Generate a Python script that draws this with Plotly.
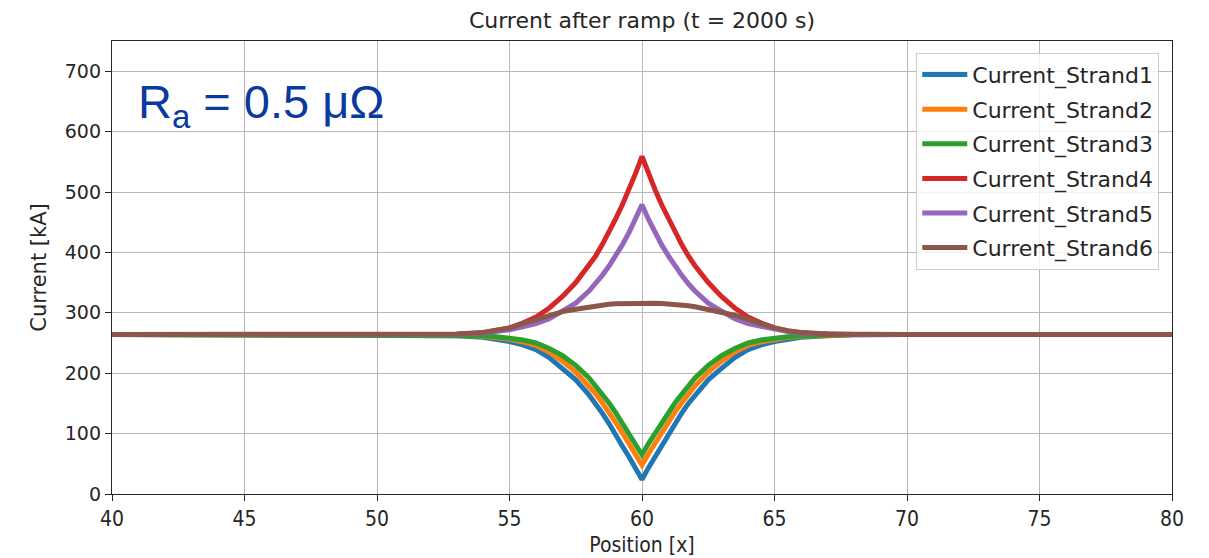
import plotly.graph_objects as go

# Position along the cable [x]
position = [40, 50, 52, 53, 54, 54.5, 55, 55.5, 56, 56.5, 57, 57.5, 58, 58.25, 58.5, 58.75,
            59, 59.25, 59.5, 59.75, 60,
            60.25, 60.5, 60.75, 61, 61.25, 61.5, 61.75, 62, 62.5, 63, 63.5, 64, 64.5,
            65, 65.5, 66, 67, 68, 70, 80]

# Strand currents [kA] after the ramp
strand1 = [264, 264, 263.5, 262, 259.5, 256.5, 252.5, 247, 239, 226, 208, 189, 164, 150, 134, 117,
           100, 80, 62, 44, 24,
           44, 62, 80, 100, 117, 134, 150, 164, 189, 208, 226, 239, 247,
           252.5, 256.5, 259.5, 262, 263.5, 264, 264]
strand2 = [264, 264, 263.5, 263, 261, 259, 256, 252, 246, 235, 220, 202, 179, 166, 151, 136,
           119, 102, 85, 67, 48,
           67, 85, 102, 119, 136, 151, 166, 179, 202, 220, 235, 246, 252,
           256, 259, 261, 263, 263.5, 264, 264]
strand3 = [264, 264, 264, 263.5, 262, 260.5, 258.5, 255, 250, 241, 229, 213, 192, 179, 165, 151,
           135, 118, 101, 84, 65,
           84, 101, 118, 135, 151, 165, 179, 192, 213, 229, 241, 250, 255,
           258.5, 260.5, 262, 263.5, 264, 264, 264]
strand4 = [264, 264, 264, 264.5, 267, 270, 275, 283, 293, 308, 327, 350, 378, 394, 413, 433,
           455, 478, 503, 530, 559,
           530, 503, 478, 455, 433, 413, 394, 378, 350, 327, 308, 293, 283,
           275, 270, 267, 264.5, 264, 264, 264]
strand5 = [264, 264, 264, 264.5, 266.5, 269, 272, 277, 282, 290, 302, 316, 336, 348, 362, 377,
           394, 412, 432, 454, 479,
           454, 432, 412, 394, 377, 362, 348, 336, 316, 302, 290, 282, 277,
           272, 269, 266.5, 264.5, 264, 264, 264]
strand6 = [264, 264, 264, 265, 267.5, 270.5, 275, 282, 289, 296, 302, 306, 310, 311.5, 313, 314,
           315, 315.5, 316, 316, 316,
           316, 316, 315.5, 315, 314, 313, 311.5, 310, 306, 302, 296, 289, 282,
           275, 270.5, 267.5, 265, 264, 264, 264]

names = ["Current_Strand1", "Current_Strand2", "Current_Strand3",
         "Current_Strand4", "Current_Strand5", "Current_Strand6"]
series = [strand1, strand2, strand3, strand4, strand5, strand6]
colors = ["#1f77b4", "#ff7f0e", "#2ca02c", "#d62728", "#9467bd", "#8c564b"]

x_ticks = [40, 45, 50, 55, 60, 65, 70, 75, 80]
y_ticks = [0, 100, 200, 300, 400, 500, 600, 700]

fig = go.Figure()
for i, (name, ys, col) in enumerate(zip(names, series, colors)):
    fig.add_trace(go.Scatter(
        x=position, y=ys, mode="lines", name=name,
        line=dict(color=col, width=5),
        legendgroup=f"g{i}",
    ))

base_font = "DejaVu Sans, sans-serif"
narrow_font = "Liberation Sans Narrow, DejaVu Sans Condensed, Arial Narrow, sans-serif"
ink = "#262626"

fig.update_layout(
    width=1209, height=558,
    margin=dict(l=112, r=37, t=41, b=64),
    paper_bgcolor="white", plot_bgcolor="white",
    font=dict(family=base_font, color=ink),
    title=dict(text="Current after ramp (t = 2000 s)", x=0.5, xref="paper",
               xanchor="center", y=1 - 20 / 558, yref="container", yanchor="middle",
               font=dict(size=22, family=base_font, color=ink)),
    showlegend=True,
    legend=dict(
        x=0.988, y=0.974, xanchor="right", yanchor="top",
        bgcolor="rgba(255,255,255,0.8)", bordercolor="#cccccc", borderwidth=1,
        font=dict(size=22, family=base_font, color=ink),
        tracegroupgap=3, itemwidth=45,
    ),
    xaxis=dict(
        range=[40, 80], tickvals=x_ticks, automargin=False,
        showgrid=True, gridcolor="#b8b8b8", gridwidth=1,
        showline=True, linecolor=ink, linewidth=1.3, mirror=True,
        ticks="outside", ticklen=6, tickcolor=ink, zeroline=False,
        tickfont=dict(size=21, family=narrow_font, color=ink),
        title=dict(text="Position [x]", standoff=6,
                   font=dict(size=21, family=narrow_font, color=ink)),
    ),
    yaxis=dict(
        range=[0, 750], tickvals=y_ticks, automargin=False,
        showgrid=True, gridcolor="#b8b8b8", gridwidth=1,
        showline=True, linecolor=ink, linewidth=1.3, mirror=True,
        ticks="outside", ticklen=6, tickcolor=ink, zeroline=False,
        tickfont=dict(size=19, family=base_font, color=ink),
        title=dict(text="Current [kA]", standoff=12,
                   font=dict(size=21, family=base_font, color=ink)),
    ),
)

fig.add_annotation(
    text="R<sub>a</sub> = 0.5 μΩ", xref="paper", yref="paper",
    x=(136 - 112) / 1060, y=(494 - 105) / 453, xanchor="left", yanchor="middle",
    showarrow=False,
    font=dict(size=47, family="Liberation Sans, Arial, sans-serif", color="#0a3a9e"),
)

fig.write_html("out.html")
